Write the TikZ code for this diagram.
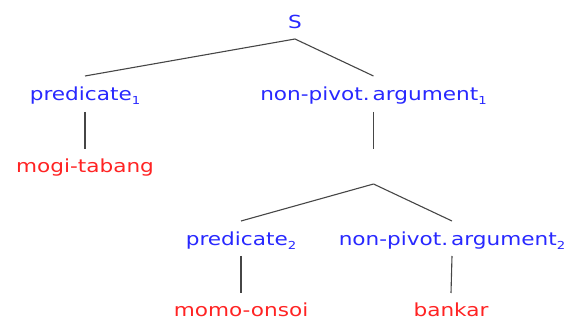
\documentclass[tikz,border=0pt]{standalone}
\usepackage{fontspec}
\newfontfamily\lblfont[FakeStretch=1.2]{DejaVu Sans}
\definecolor{catblue}{RGB}{40,40,255}
\definecolor{wordred}{RGB}{255,35,35}
\definecolor{edgegray}{RGB}{70,70,70}
\newcommand\subidx[1]{\raisebox{-4pt}{\fontsize{11}{11}\selectfont #1}}
\tikzset{
  lbl/.style={anchor=base, inner sep=0pt, outer sep=0pt, text height=14pt, text depth=4pt,
              font=\lblfont\fontsize{18}{18}\selectfont},
  cat/.style={lbl, text=catblue},
  word/.style={lbl, text=wordred},
  edge/.style={draw=edgegray, line width=1.1pt}
}
\begin{document}
\begin{tikzpicture}[x=1pt,y=-1pt]
\useasboundingbox (0,0) rectangle (570,320);
\node[cat] (S) at (295,29) {S};
\node[cat] (p1) at (85,101) {predicate\subidx{1}};
\node[cat] (a1) at (373.5,101) {non-pivot.\,argument\subidx{1}};
\node[word] (w1) at (85,173) {mogi-tabang};
\node[lbl] (e1) at (373.5,173) {};
\node[cat] (p2) at (241,245.5) {predicate\subidx{2}};
\node[cat] (a2) at (452,245.5) {non-pivot.\,argument\subidx{2}};
\node[word] (w2) at (241,316.5) {momo-onsoi};
\node[word] (w3) at (451,316.5) {bankar};
\draw[edge] ([yshift=-6pt]S.south) -- ([yshift=11pt]p1.north);
\draw[edge] ([yshift=-6pt]S.south) -- ([yshift=11pt]a1.north);
\draw[edge] ([yshift=-7pt]p1.south) -- ([yshift=10pt]w1.north);
\draw[edge] ([yshift=-7pt]a1.south) -- ([yshift=10pt]e1.north);
\draw[edge] ([yshift=-7pt]e1.south) -- ([yshift=10.5pt]p2.north);
\draw[edge] ([yshift=-7pt]e1.south) -- ([yshift=10.5pt]a2.north);
\draw[edge] ([yshift=-6.5pt]p2.south) -- ([yshift=9.5pt]w2.north);
\draw[edge] ([yshift=-6.5pt]a2.south) -- ([yshift=9.5pt]w3.north);
\end{tikzpicture}
\end{document}
